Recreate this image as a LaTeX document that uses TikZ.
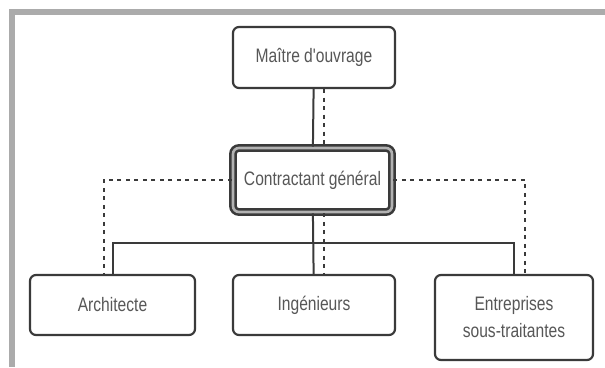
\documentclass[tikz,border=0pt]{standalone}
\usepackage{fontspec}
\newfontfamily\orgfont{Liberation Sans}[FakeStretch=0.8]
\definecolor{cadre}{HTML}{ABABAB}
\definecolor{trait}{HTML}{3A3A3A}
\begin{document}
\begin{tikzpicture}[x=1pt,y=-1pt,
		boite/.style={draw=trait, line width=2.2pt, rounded corners=6pt, fill=white,
			text=trait!85, font=\orgfont\fontsize{19.5}{27}\selectfont, align=center, inner sep=0pt},
		lien/.style={draw=trait, line width=2pt},
		pointille/.style={draw=trait, line width=2pt, dash pattern=on 4pt off 4.5pt}]
				\useasboundingbox (0,0) rectangle (605,367);
				\draw[cadre, line width=6pt] (605,12) -- (12,12) -- (12,367);
				
				\node[boite, minimum width=162pt, minimum height=61pt] (mo) at (314,57.5) {Maître d'ouvrage};
				
				\node[boite, minimum width=159pt, minimum height=64pt, line width=2.6pt,
					double=gray!60, double distance=2.6pt] (cg) at (312.5,180) {Contractant général};
				
				\node[boite, minimum width=165pt, minimum height=60pt] (arch) at (112.5,305) {Architecte};
				\node[boite, minimum width=162pt, minimum height=60pt] (ing) at (314,305) {Ingénieurs};
				\node[boite, minimum width=158pt, minimum height=85pt] (ent) at (514,317.5) {Entreprises\\sous-traitantes};
				
				\coordinate (bus) at (314,243);
				
				\draw[lien] (mo) -- (cg);
				\draw[lien] (cg) -- (ing);
				\draw[lien] (arch.north) |- (bus) -| (ent.north);
				\draw[pointille] ([xshift=10pt]mo.south) -- ([xshift=10pt]mo.south |- cg.north);
				\draw[pointille] ([xshift=10pt]ing.north |- cg.south) -- ([xshift=10pt]ing.north);
				\draw[pointille] (cg.west) -| ([xshift=-9pt]arch.north);
				\draw[pointille] (cg.east) -| ([xshift=11pt]ent.north);
			\end{tikzpicture}
\end{document}
